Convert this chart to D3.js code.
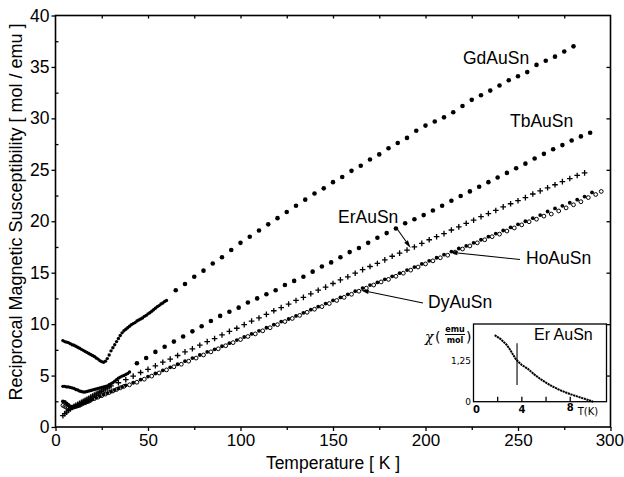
<!DOCTYPE html>
<html>
<head>
<meta charset="utf-8">
<script src="https://cdn.jsdelivr.net/npm/d3@7"></script>
<style>
  html, body { margin: 0; padding: 0; background: #fff; }
  svg { display: block; }
</style>
</head>
<body>
<svg id="chart" width="624" height="477"></svg>
<script>
// Reciprocal magnetic susceptibility of the RAuSn series, [temperature K, mol/emu]

const gdAuSnLow = [[4,8.4],[5,8.3],[6,8.25],[7,8.2],[8,8.1],[9,8.0],[10,7.95],[11,7.85],[12,7.75],[13,7.65],
  [14,7.55],[15,7.45],[16,7.35],[17,7.25],[18,7.15],[19,7.05],[20,6.95],[21,6.85],[22,6.7],[23,6.6],
  [24,6.45],[25,6.35],[26,6.3],[27,6.4],[28,6.65],[29,7.0],[30,7.4],[31,7.7],[32,8.0],[33,8.3],
  [34,8.6],[35,8.9],[36,9.15],[37,9.35],[38,9.5],[39,9.65],[40,9.8],[41,9.95],[42,10.05],[43,10.15],
  [44,10.3],[45,10.4],[46,10.5],[47,10.6],[48,10.75],[49,10.85],[50,11.0],[51,11.1],[52,11.25],[53,11.4],
  [54,11.55],[55,11.7],[56,11.8],[57,11.95],[58,12.05],[59,12.2],[60,12.3]];

const gdAuSn = [[65,13.3],[70,13.9],[75,14.6],[80,15.2],[85,15.9],[90,16.5],[95,17.2],[100,17.9],
  [105,18.5],[110,19.1],[115,19.7],[120,20.3],[125,20.9],[130,21.5],[135,22.1],[140,22.7],[145,23.2],
  [150,23.8],[155,24.3],[160,24.9],[165,25.4],[170,26.0],[175,26.5],[180,27.1],[185,27.6],[190,28.1],
  [195,28.8],[200,29.3],[205,29.7],[210,30.1],[215,30.6],[220,31.2],[225,31.8],[230,32.25],[235,32.7],
  [240,33.2],[245,33.7],[250,34.1],[255,34.5],[260,35.2],[265,35.6],[270,36.0],[275,36.5],[280,37.0]];

const tbAuSnLow = [[4,3.95],[5,3.95],[6,3.9],[7,3.9],[8,3.85],[9,3.8],[10,3.75],[11,3.65],[12,3.6],[13,3.5],
  [14,3.45],[15,3.4],[16,3.4],[17,3.45],[18,3.5],[19,3.55],[20,3.6],[21,3.65],[22,3.7],[23,3.75],
  [24,3.8],[25,3.85],[26,3.9],[27,3.95],[28,4.0],[29,4.1],[30,4.2],[31,4.3],[32,4.45],[33,4.6],
  [34,4.75],[35,4.85],[36,4.95],[37,5.0],[38,5.1],[39,5.2],[40,5.35]];

const tbAuSn = [[44,6.2],[49,6.7],[54,7.3],[59,7.8],[64,8.3],[69,8.8],[74,9.3],[79,9.8],[84,10.3],
  [89,10.8],[94,11.2],[99,11.6],[104,12.1],[109,12.5],[114,12.9],[119,13.3],[124,13.8],[129,14.2],
  [134,14.6],[139,15.1],[144,15.6],[149,16.0],[154,16.5],[159,17.0],[164,17.4],[169,17.9],[174,18.4],
  [179,18.85],[184,19.3],[189,19.8],[194,20.2],[199,20.6],[204,21.05],[209,21.5],[214,22.0],[219,22.45],
  [224,22.9],[229,23.35],[234,23.8],[239,24.25],[244,24.7],[249,25.15],[254,25.6],[259,26.1],[264,26.55],
  [269,27.0],[274,27.4],[279,27.85],[284,28.25],[289,28.6]];

const erAuSn = [[4,1.1],[5,1.3],[6,1.45],[7,1.6],[8,1.75],[9,1.9],[10,2.0],[11,2.1],[12,2.2],[13,2.3],
  [14,2.4],[15,2.5],[16,2.6],[17,2.7],[18,2.8],[19,2.9],[20,3.0],[21,3.1],[22,3.2],[23,3.3],[24,3.4],
  [25,3.5],[26,3.6],[27,3.7],[28,3.8],[29,3.9],[30,4.0],[34,4.3],[38,4.6],[42,4.95],[46,5.3],[50,5.6],
  [54,5.95],[58,6.3],[62,6.6],[66,6.95],[70,7.3],[74,7.6],[78,7.95],[82,8.3],[86,8.6],[90,8.95],
  [94,9.3],[98,9.6],[102,9.95],[106,10.3],[110,10.6],[114,10.95],[118,11.3],[122,11.6],[126,11.95],
  [130,12.3],[134,12.6],[138,12.95],[142,13.3],[146,13.6],[150,13.95],[154,14.3],[158,14.6],[162,14.95],
  [166,15.3],[170,15.6],[174,15.9],[178,16.25],[182,16.6],[186,16.9],[190,17.2],[194,17.5],[198,17.85],
  [202,18.2],[206,18.5],[210,18.8],[214,19.15],[218,19.45],[222,19.8],[226,20.1],[230,20.45],[234,20.75],
  [238,21.05],[242,21.4],[246,21.7],[250,22.0],[254,22.3],[258,22.65],[262,22.95],[266,23.25],[270,23.55],
  [274,23.85],[278,24.15],[282,24.45],[286,24.7]];

const hoAuSn = [[4,2.5],[5,2.45],[6,2.3],[7,2.15],[8,2.0],[9,1.95],[10,1.95],[11,2.0],[12,2.1],[13,2.15],
  [14,2.25],[15,2.3],[16,2.4],[17,2.5],[18,2.55],[19,2.65],[20,2.7],[22,2.85],[24,3.0],[26,3.15],
  [28,3.3],[30,3.45],[32,3.6],[34,3.75],[36,3.9],[38,4.05],[42,4.3],[46,4.6],[50,4.9],[54,5.2],
  [58,5.5],[62,5.8],[66,6.1],[70,6.4],[74,6.7],[78,7.0],[82,7.3],[86,7.55],[90,7.85],[94,8.15],
  [98,8.45],[102,8.75],[106,9.05],[110,9.35],[114,9.65],[118,9.95],[122,10.25],[126,10.5],[130,10.8],
  [134,11.1],[138,11.4],[142,11.7],[146,12.0],[150,12.3],[154,12.6],[158,12.9],[162,13.2],[166,13.5],
  [170,13.8],[174,14.05],[178,14.35],[182,14.65],[186,14.95],[190,15.25],[194,15.55],[198,15.85],
  [202,16.15],[206,16.45],[210,16.75],[214,17.05],[218,17.35],[222,17.6],[226,17.9],[230,18.2],
  [234,18.5],[238,18.8],[242,19.1],[246,19.4],[250,19.7],[254,20.0],[258,20.3],[262,20.6],[266,20.95],
  [270,21.25],[274,21.5],[278,21.8],[282,22.1],[286,22.4],[290,22.8]];

const dyAuSn = [[4,2.1],[5,2.0],[6,1.9],[7,1.85],[8,1.85],[9,1.9],[10,1.95],[11,2.0],[12,2.05],[13,2.1],
  [14,2.2],[15,2.3],[16,2.35],[17,2.45],[18,2.5],[19,2.6],[21,2.75],[23,2.9],[25,3.05],[27,3.2],
  [29,3.35],[31,3.5],[33,3.65],[35,3.8],[37,3.95],[40,4.1],[44,4.35],[48,4.65],[52,4.95],[56,5.25],
  [60,5.55],[64,5.85],[68,6.1],[72,6.4],[76,6.7],[80,7.0],[84,7.3],[88,7.6],[92,7.9],[96,8.2],
  [100,8.5],[104,8.8],[108,9.05],[112,9.35],[116,9.65],[120,9.95],[124,10.25],[128,10.55],[132,10.85],
  [136,11.15],[140,11.45],[144,11.7],[148,12.0],[152,12.3],[156,12.6],[160,12.9],[164,13.2],[168,13.5],
  [172,13.8],[176,14.1],[180,14.35],[184,14.65],[188,14.95],[192,15.25],[196,15.55],[200,15.85],
  [204,16.15],[208,16.45],[212,16.7],[216,17.0],[220,17.3],[224,17.6],[228,17.9],[232,18.2],[236,18.5],
  [240,18.75],[244,19.05],[248,19.35],[252,19.65],[256,19.95],[260,20.2],[264,20.5],[268,20.7],
  [272,21.0],[276,21.3],[280,21.6],[284,21.9],[288,22.3],[292,22.6],[295,22.9]];

// Inset: ErAuSn susceptibility below 10 K, [T K, chi emu/mol]
const erChiLowT = [[1.75,2.03],[2.0,1.97],[2.25,1.91],[2.5,1.82],[2.75,1.73],[3.0,1.6],[3.25,1.45],
  [3.5,1.3],[3.75,1.2],[4.0,1.12],[4.5,1.0],[5.0,0.84],[5.5,0.7],[6.0,0.58],[6.5,0.47],[7.0,0.38],
  [7.5,0.3],[8.0,0.23],[8.5,0.17],[9.0,0.11],[9.5,0.05],[9.9,0.0]];
const erTransition = { t: 3.6, from: 0.51, to: 1.78 };

const xTicks = [0, 50, 100, 150, 200, 250, 300];
const xMinorTicks = [25, 75, 125, 175, 225, 275];
const yTicks = [0, 5, 10, 15, 20, 25, 30, 35, 40];
const yMinorTicks = [2.5, 7.5, 12.5, 17.5, 22.5, 27.5, 32.5, 37.5];
const insetXTicks = [2, 4, 6, 8];
const insetXLabels = [0, 4, 8];
const insetYLabels = [0, 1.25];

const FONT = "'Liberation Sans', Arial, Helvetica, sans-serif";
const svg = d3.select("#chart");

const x = d3.scaleLinear().domain([0, 300]).range([55.5, 610.5]);
const y = d3.scaleLinear().domain([0, 40]).range([427, 15.5]);
const [x0, x1] = x.range();
const [y0, y1] = y.range();

// ---- axes ----
function styleAxis(g, size) {
  g.select(".domain").remove();
  g.selectAll("line").attr("stroke", "#000").attr("stroke-width", 1.3);
  g.selectAll("text").attr("font-family", FONT).attr("font-size", size).attr("fill", "#000");
}

svg.append("g").attr("transform", `translate(0,${y0})`)
  .call(d3.axisBottom(x).tickValues(xTicks).tickSize(4).tickPadding(3).tickFormat(d3.format("d")))
  .call(g => styleAxis(g, 17))
  // keep the last label inside the page edge
  .call(g => g.selectAll(".tick text").filter(d => d === 300).attr("text-anchor", "end").attr("dx", 13));
svg.append("g").attr("transform", `translate(0,${y0})`)
  .call(d3.axisBottom(x).tickValues(xMinorTicks).tickSize(3).tickFormat(""))
  .call(g => styleAxis(g, 17));
svg.append("g").attr("transform", `translate(0,${y1})`)
  .call(d3.axisBottom(x).tickValues(xMinorTicks.concat(xTicks.slice(1, -1))).tickSize(3).tickFormat(""))
  .call(g => styleAxis(g, 17));

svg.append("g").attr("transform", `translate(${x0},0)`)
  .call(d3.axisLeft(y).tickValues(yTicks).tickSize(4).tickPadding(2).tickFormat(d3.format("d")))
  .call(g => styleAxis(g, 17.5));
svg.append("g").attr("transform", `translate(${x0},0)`)
  .call(d3.axisRight(y).tickValues(yMinorTicks).tickSize(3).tickFormat(""))
  .call(g => styleAxis(g, 17.5));
svg.append("g").attr("transform", `translate(${x1},0)`)
  .call(d3.axisLeft(y).tickValues(yTicks.slice(1, -1)).tickSize(4).tickFormat(""))
  .call(g => styleAxis(g, 17.5));

svg.append("rect")
  .attr("x", x0).attr("y", y1).attr("width", x1 - x0).attr("height", y0 - y1)
  .attr("fill", "none").attr("stroke", "#000").attr("stroke-width", 1.6);

svg.append("text")
  .attr("x", (x0 + x1) / 2).attr("y", 469)
  .attr("text-anchor", "middle").attr("font-family", FONT).attr("font-size", 17.5)
  .text("Temperature [ K ]");

svg.append("text")
  .attr("transform", `translate(22,212) rotate(-90)`)
  .attr("text-anchor", "middle").attr("font-family", FONT).attr("font-size", 18)
  .text("Reciprocal Magnetic Susceptibility [ mol / emu ]");

// ---- data series ----
const plot = svg.append("g");

function dots(data, r, filled) {
  plot.append("g").selectAll("circle").data(data).join("circle")
    .attr("cx", d => x(d[0])).attr("cy", d => y(d[1])).attr("r", r)
    .attr("fill", filled ? "#000" : "none")
    .attr("stroke", "#000").attr("stroke-width", filled ? 0 : 1);
}

dots(dyAuSn, 1.9, false);
dots(hoAuSn, 1.9, true);

plot.append("g").selectAll("path").data(erAuSn).join("path")
  .attr("transform", d => `translate(${x(d[0])},${y(d[1])})`)
  .attr("d", "M-2.8,0H2.8M0,-2.8V2.8")
  .attr("stroke", "#000").attr("stroke-width", 1.3).attr("fill", "none");

dots(tbAuSnLow, 1.7, true);
dots(tbAuSn, 2.3, true);
dots(gdAuSnLow, 1.7, true);
dots(gdAuSn, 2.3, true);

// ---- series labels with pointer arrows ----
const labels = [
  { text: "GdAuSn", x: 463, y: 64 },
  { text: "TbAuSn", x: 510, y: 127 },
  { text: "ErAuSn", x: 338, y: 223 },
  { text: "HoAuSn", x: 526, y: 264 },
  { text: "DyAuSn", x: 428, y: 308 }
];
svg.append("g").selectAll("text").data(labels).join("text")
  .attr("x", d => d.x).attr("y", d => d.y)
  .attr("font-family", FONT).attr("font-size", 17.5).attr("fill", "#000")
  .text(d => d.text);

const arrows = [
  { from: [396.5, 228], to: [192, 17.4] },
  { from: [520, 259.5], to: [213, 17.0] },
  { from: [423, 303], to: [165, 13.3] }
];
arrows.forEach(a => {
  const [fx, fy] = a.from;
  const tx = x(a.to[0]), ty = y(a.to[1]);
  const ang = Math.atan2(ty - fy, tx - fx);
  const L = 8, W = 2.2;
  const bx = tx - L * Math.cos(ang), by = ty - L * Math.sin(ang);
  svg.append("line").attr("x1", fx).attr("y1", fy).attr("x2", bx).attr("y2", by)
    .attr("stroke", "#000").attr("stroke-width", 1.1);
  svg.append("path")
    .attr("d", `M${tx},${ty}L${bx - W * Math.sin(ang)},${by + W * Math.cos(ang)}L${bx + W * Math.sin(ang)},${by - W * Math.cos(ang)}Z`)
    .attr("fill", "#000");
});

// ---- inset: chi(T) of ErAuSn ----
const xi = d3.scaleLinear().domain([0, 11]).range([473.5, 606.5]);
const yi = d3.scaleLinear().domain([0, 2.37]).range([401.7, 324]);
const inset = svg.append("g");

inset.append("rect")
  .attr("x", xi.range()[0]).attr("y", yi.range()[1])
  .attr("width", xi.range()[1] - xi.range()[0]).attr("height", yi.range()[0] - yi.range()[1])
  .attr("fill", "#fff").attr("stroke", "#000").attr("stroke-width", 1.3);

inset.append("g").selectAll("line").data(insetXTicks).join("line")
  .attr("x1", d => xi(d)).attr("x2", d => xi(d))
  .attr("y1", yi(0)).attr("y2", yi(0) - 5)
  .attr("stroke", "#000").attr("stroke-width", 1.3);

inset.append("path")
  .attr("d", d3.line().x(d => xi(d[0])).y(d => yi(d[1])).curve(d3.curveLinear)(erChiLowT))
  .attr("fill", "none").attr("stroke", "#000").attr("stroke-width", 2)
  .attr("stroke-dasharray", "2.2,0.6");

inset.append("line")
  .attr("x1", xi(erTransition.t)).attr("x2", xi(erTransition.t))
  .attr("y1", yi(erTransition.from)).attr("y2", yi(erTransition.to))
  .attr("stroke", "#000").attr("stroke-width", 1.1);

const insetFont = "'DejaVu Sans', Arial, sans-serif";
inset.append("g").selectAll("text").data(insetXLabels).join("text")
  .attr("x", d => xi(d) + (d === 0 ? 3 : 0)).attr("y", d => d === 8 ? 411 : 413)
  .attr("text-anchor", "middle").attr("font-family", insetFont).attr("font-size", 10)
  .attr("font-weight", "bold").text(d => d);
inset.append("text").attr("x", 588).attr("y", 415).attr("text-anchor", "middle")
  .attr("font-family", insetFont).attr("font-size", 10).text("T(K)");

inset.append("g").selectAll("text").data(insetYLabels).join("text")
  .attr("x", 471).attr("y", d => yi(d) + 3.5)
  .attr("text-anchor", "end").attr("font-family", insetFont).attr("font-size", 9)
  .text(d => d === 0 ? "0" : "1,25");

inset.append("text").attr("x", 425).attr("y", 342)
  .attr("font-family", "'DejaVu Serif', serif").attr("font-style", "italic").attr("font-size", 14)
  .text("χ");
inset.append("text").attr("x", 435).attr("y", 342)
  .attr("font-family", insetFont).attr("font-size", 14).text("(");
inset.append("text").attr("x", 455).attr("y", 332).attr("text-anchor", "middle")
  .attr("font-family", insetFont).attr("font-size", 8).attr("font-weight", "bold").text("emu");
inset.append("line").attr("x1", 445).attr("x2", 465).attr("y1", 334.5).attr("y2", 334.5)
  .attr("stroke", "#000").attr("stroke-width", 1);
inset.append("text").attr("x", 455).attr("y", 342.5).attr("text-anchor", "middle")
  .attr("font-family", insetFont).attr("font-size", 8).attr("font-weight", "bold").text("mol");
inset.append("text").attr("x", 466).attr("y", 342)
  .attr("font-family", insetFont).attr("font-size", 14).text(")");

inset.append("text").attr("x", 534).attr("y", 340)
  .attr("font-family", FONT).attr("font-size", 16).text("Er AuSn");
</script>
</body>
</html>
